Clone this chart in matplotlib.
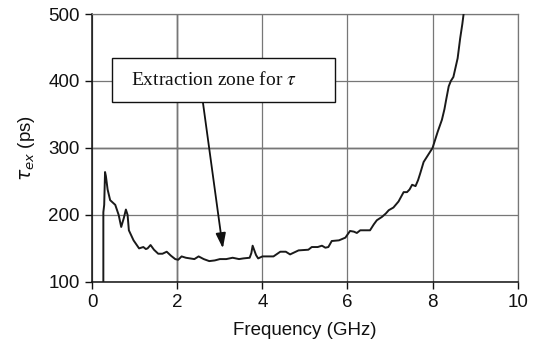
import numpy as np
import matplotlib
matplotlib.use("Agg")
import matplotlib.pyplot as plt
from matplotlib.patches import Rectangle

plt.rcParams["font.family"] = ["Liberation Sans", "DejaVu Sans"]

# extracted delay tau_ex vs frequency
freq_ghz = [0.26, 0.26, 0.28, 0.30, 0.32, 0.36, 0.42, 0.54, 0.62, 0.68, 0.74, 0.79,
            0.83, 0.86, 0.97, 1.10, 1.20, 1.26, 1.30, 1.37, 1.45, 1.55, 1.65, 1.75,
            1.85, 1.95, 2.02, 2.10, 2.20, 2.30, 2.40, 2.50, 2.62, 2.75, 2.88, 3.00,
            3.15, 3.30, 3.45, 3.55, 3.70, 3.74, 3.77, 3.81, 3.85, 3.90, 4.00, 4.26,
            4.42, 4.55, 4.65, 4.75, 4.85, 5.08, 5.16, 5.30, 5.40, 5.48, 5.55, 5.63,
            5.80, 5.95, 6.06, 6.15, 6.22, 6.30, 6.53, 6.62, 6.69, 6.81, 6.90, 6.97,
            7.08, 7.20, 7.32, 7.40, 7.46, 7.52, 7.60, 7.66, 7.71, 7.79, 7.90, 8.00,
            8.06, 8.12, 8.22, 8.28, 8.32, 8.38, 8.43, 8.49, 8.54, 8.59, 8.65, 8.70, 8.73]
tau_ps = [100, 204, 215, 264, 258, 238, 222, 215, 200, 182, 195, 208,
          200, 177, 162, 150, 152, 149, 150, 155, 148, 142, 142, 145,
          139, 134, 133, 138, 136, 135, 134, 138, 134, 131, 132, 134,
          134, 136, 134, 135, 136, 143, 154, 147, 140, 135, 138, 138,
          145, 145, 141, 144, 147, 148, 152, 152, 154, 151, 152, 161,
          162, 166, 176, 175, 173, 177, 177, 186, 192, 197, 202, 207,
          211, 220, 234, 234, 238, 245, 243, 252, 262, 279, 290, 300,
          312, 324, 342, 358, 372, 392, 400, 406, 420, 434, 464, 485, 500]

x_ticks = [0, 2, 4, 6, 8, 10]
y_ticks = [100, 200, 300, 400, 500]
box_text = r"Extraction zone for $\tau$"

fig = plt.figure(figsize=(5.35, 3.51), dpi=100)
ax = fig.add_axes([0.1725, 0.197, 0.795, 0.763])

ax.plot(freq_ghz, tau_ps, color="#1a1a1a", lw=1.4, zorder=3)

ax.set_xlim(0, 10)
ax.set_ylim(100, 500)
ax.set_xticks(x_ticks)
ax.set_yticks(y_ticks)
ax.grid(True, color="#777777", lw=0.9, zorder=0)
ax.axvline(2, color="#222222", lw=1.0, zorder=1)
ax.axhline(300, color="#222222", lw=1.0, zorder=1)

for s in ["left", "bottom"]:
    ax.spines[s].set_color("#111111")
    ax.spines[s].set_linewidth(1.1)
for s in ["top", "right"]:
    ax.spines[s].set_color("#777777")
    ax.spines[s].set_linewidth(0.9)

ax.tick_params(axis="both", direction="out", length=5, width=1.0,
               labelsize=13.5, colors="#111111", pad=4)
ax.set_xlabel("Frequency (GHz)", fontsize=13.5, labelpad=8, color="#111111")
ax.set_ylabel(r"$\tau_{ex}$ (ps)", fontsize=13.5, labelpad=8, color="#111111")

# annotation box with arrow
ax.add_patch(Rectangle((0.46, 368.5), 5.25, 65.5, facecolor="white",
                       edgecolor="#111111", lw=1.0, zorder=5))
ax.text(0.92, 401, box_text, family=["Liberation Serif", "DejaVu Serif"],
        math_fontfamily="stix", fontsize=14, va="center", ha="left",
        color="#111111", zorder=6)
ax.annotate("", xy=(3.07, 150), xytext=(2.6, 368.5),
            arrowprops=dict(arrowstyle="-|>,head_length=0.9,head_width=0.3",
                            color="#111111", lw=1.3, shrinkA=0, shrinkB=0),
            zorder=4)

fig.savefig("out.png", dpi=100, facecolor="white")
